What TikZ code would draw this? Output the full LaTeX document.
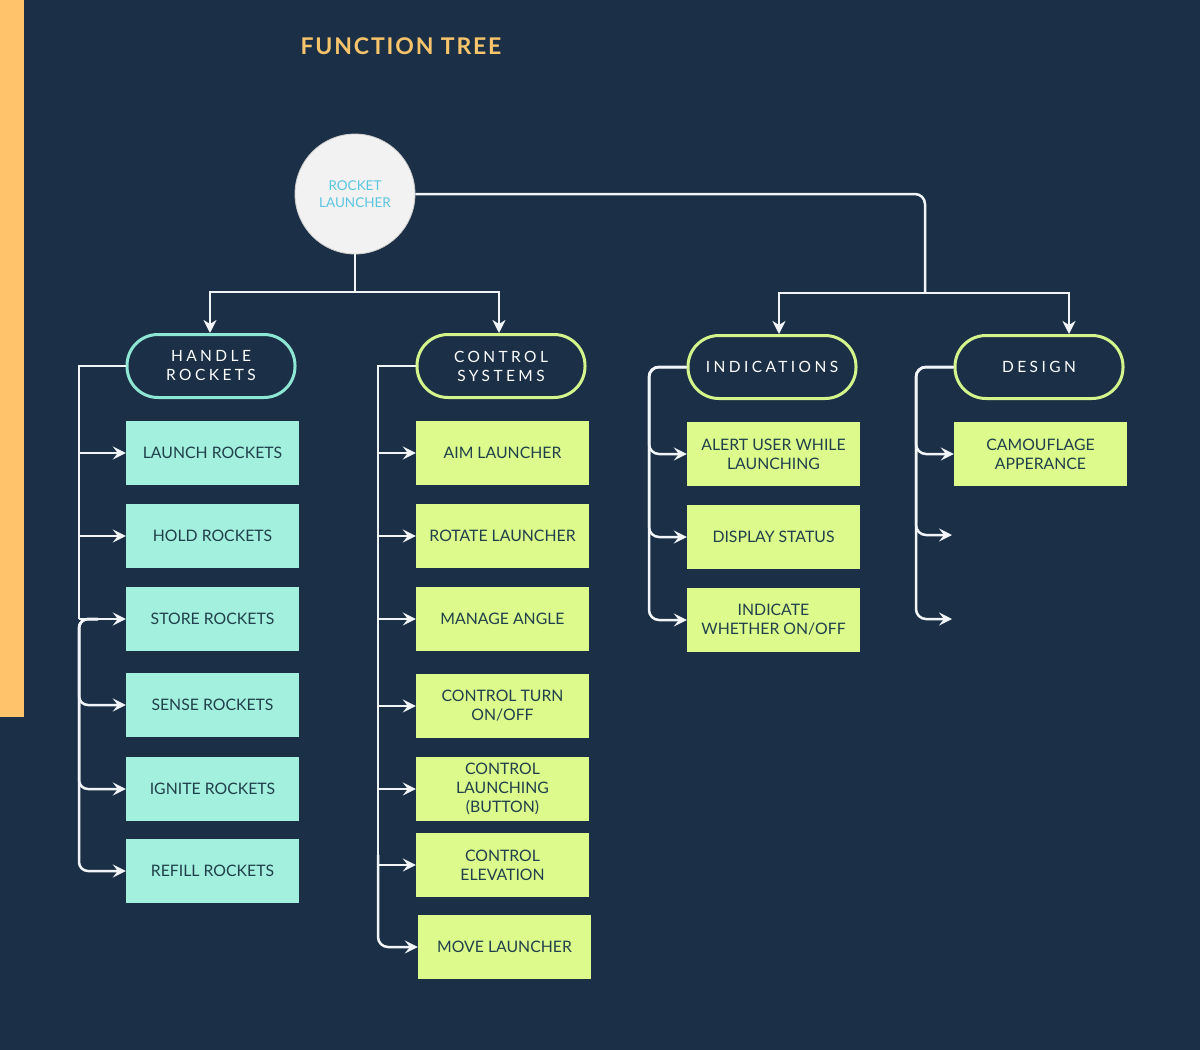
\documentclass[tikz,border=0pt]{standalone}
\usepackage{fontspec}
\setmainfont{Lato}
\newfontfamily\spaced[LetterSpace=22]{Lato}
\usetikzlibrary{arrows.meta,calc}
\definecolor{bg}{HTML}{1B3046}
\definecolor{orangebar}{HTML}{FFC46B}
\definecolor{titlec}{HTML}{F7C46C}
\definecolor{tealfill}{HTML}{A2F0DD}
\definecolor{limefill}{HTML}{DCFB8C}
\definecolor{tealline}{HTML}{8EE6D4}
\definecolor{limeline}{HTML}{D3F58C}
\definecolor{leaftext}{HTML}{21404B}
\definecolor{linec}{HTML}{F2F5F8}
\definecolor{rootfill}{HTML}{F2F2F2}
\definecolor{roottext}{HTML}{5BC6E0}
\begin{document}
\begin{tikzpicture}[x=1pt,y=-1pt,
  leaf/.style={rectangle, minimum width=173pt, minimum height=64pt, inner sep=0pt, align=center,
    font=\fontsize{15.8}{19}\selectfont, text=leaftext},
  tleaf/.style={leaf, fill=tealfill},
  lleaf/.style={leaf, fill=limefill},
  pill/.style={rectangle, rounded corners=31pt, minimum width=168pt, minimum height=63pt, line width=3pt,
    fill=bg, text=white, align=center, font=\spaced\fontsize{15.5}{19}\selectfont, inner sep=0pt},
  conn/.style={draw=linec, line width=2.5pt},
  arr/.style={conn, -{Stealth[length=13pt,width=13pt,inset=5pt]}},
  darr/.style={conn, -{Stealth[length=13pt,width=13pt,inset=4pt]}}
]
\fill[bg] (0,0) rectangle (1200,1050);
\useasboundingbox (0,0) rectangle (1200,1050);
\fill[orangebar] (0,0) rectangle (24,717);

\node[text=titlec, font=\bfseries\addfontfeature{LetterSpace=8}\fontsize{23}{27}\selectfont] (title) at (401,46) {FUNCTION TREE};

\node[circle, fill=rootfill, draw=black!20, line width=0.8pt, minimum size=120pt, inner sep=0pt, align=center,
  text=roottext, font=\fontsize{13.5}{17}\selectfont] (root) at (355,194) {ROCKET\\LAUNCHER};

% categories
\node[pill, draw=tealline] (hr) at (211,366) {HANDLE\\ROCKETS};
\node[pill, draw=limeline] (cs) at (501,366) {CONTROL\\SYSTEMS};
\node[pill, draw=limeline] (ind) at (772,367) {INDICATIONS};
\node[pill, draw=limeline] (des) at (1039,367) {DESIGN};

% column 1
\node[tleaf] (lr) at (212.5,453) {LAUNCH ROCKETS};
\node[tleaf] (hold) at (212.5,536) {HOLD ROCKETS};
\node[tleaf] (store) at (212.5,619) {STORE ROCKETS};
\node[tleaf] (sense) at (212.5,705) {SENSE ROCKETS};
\node[tleaf] (ignite) at (212.5,789) {IGNITE ROCKETS};
\node[tleaf] (refill) at (212.5,871) {REFILL ROCKETS};

% column 2
\node[lleaf] (aim) at (502.5,453) {AIM LAUNCHER};
\node[lleaf] (rot) at (502.5,536) {ROTATE LAUNCHER};
\node[lleaf] (ang) at (502.5,619) {MANAGE ANGLE};
\node[lleaf] (turn) at (502.5,706) {CONTROL TURN\\ON/OFF};
\node[lleaf] (btn) at (502.5,789) {CONTROL\\LAUNCHING\\(BUTTON)};
\node[lleaf] (elev) at (502.5,865) {CONTROL\\ELEVATION};
\node[lleaf] (move) at (504.5,947) {MOVE LAUNCHER};

% column 3
\node[lleaf] (alert) at (773.5,454) {ALERT USER WHILE\\LAUNCHING};
\node[lleaf] (disp) at (773.5,537) {DISPLAY STATUS};
\node[lleaf] (onoff) at (773.5,620) {INDICATE\\WHETHER ON/OFF};

% column 4
\node[lleaf] (camo) at (1040.5,454) {CAMOUFLAGE\\APPERANCE};
\coordinate (e1) at (952,535);
\coordinate (e2) at (952,619);

% top connectors
\coordinate (j1) at (355,292);
\draw[conn] (root.south) -- (j1);
\draw[darr] (j1) -| ($(hr.north)+(-1,0)$);
\draw[darr] (j1) -| ($(cs.north)+(-2,0)$);
\coordinate (j2) at (925,293);
\draw[conn, rounded corners=10pt] (root.east) -| (j2);
\draw[darr] (j2) -| ($(ind.north)+(7,0)$);
\draw[darr] (j2) -| ($(des.north)+(30,0)$);

% column 1 connectors
\coordinate (b1) at (79,366);
\coordinate (c1) at (98,619);
\draw[conn] (hr.west) -- (b1) -- (store.west -| b1);
\foreach \n in {lr,hold,store} \draw[arr] (\n.west -| b1) -- (\n.west);
\foreach \n in {sense,ignite,refill} \draw[arr, rounded corners=9pt] (store.west -| c1) -- (store.west -| b1) |- (\n.west);

% column 2 connectors
\coordinate (b2) at (378,366);
\draw[conn] (cs.west) -- (b2) -- (elev.west -| b2);
\foreach \n in {aim,rot,ang,turn,btn,elev} \draw[arr] (\n.west -| b2) -- (\n.west);
\draw[arr, rounded corners=10pt] ($(elev.west -| b2)+(0,-10)$) |- (move.west);

% column 3 connectors
\coordinate (b3) at (649,367);
\foreach \n in {alert,disp,onoff} \draw[arr, rounded corners=10pt] (ind.west) -- (b3) |- (\n.west);

% column 4 connectors
\coordinate (b4) at (916,367);
\foreach \n in {camo.west,e1,e2} \draw[arr, rounded corners=10pt] (des.west) -- (b4) |- (\n);
\end{tikzpicture}
\end{document}
